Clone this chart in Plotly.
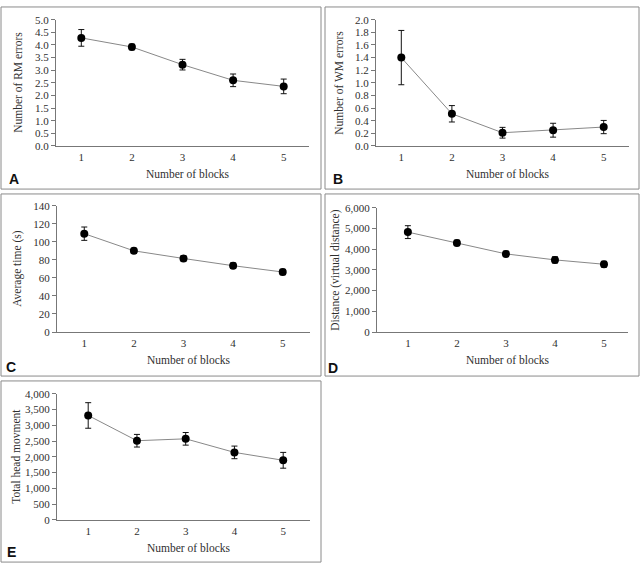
import plotly.graph_objects as go

W, H = 641, 571

blocks = [1, 2, 3, 4, 5]

rm_errors = [4.28, 3.92, 3.22, 2.60, 2.36]
rm_errors_se = [0.33, 0.11, 0.21, 0.25, 0.29]

wm_errors = [1.40, 0.51, 0.21, 0.25, 0.30]
wm_errors_se = [0.43, 0.13, 0.085, 0.11, 0.105]

avg_time = [109.0, 90.0, 81.5, 73.5, 66.5]
avg_time_se = [7.4, 2.8, 2.8, 3.0, 3.0]

distance = [4820, 4300, 3770, 3480, 3270]
distance_se = [310, 130, 130, 150, 140]

head_move = [3310, 2510, 2570, 2140, 1890]
head_move_se = [405, 200, 200, 200, 250]

panel_letters = ["A", "B", "C", "D", "E"]
y_titles = ["Number of RM errors", "Number of WM errors", "Average time (s)",
            "Distance (virtual distance)", "Total head movment"]
x_title = "Number of blocks"

series = [rm_errors, wm_errors, avg_time, distance, head_move]
errors = [rm_errors_se, wm_errors_se, avg_time_se, distance_se, head_move_se]

# layout (pixels)
panels = [
    dict(xd=(56, 309), xr=(0.5, 5.5), yd=(14, 143), yr=(0, 5), dt=0.5, fmt=".1f",
         box=(1, 1, 321, 187), letter=(7, 177), ytx=18),
    dict(xd=(376, 629), xr=(0.5, 5.5), yd=(14, 143), yr=(0, 2), dt=0.2, fmt=".1f",
         box=(325, 1, 639, 187), letter=(331, 177), ytx=339),
    dict(xd=(57, 310), xr=(0.45, 5.55), yd=(204, 333), yr=(0, 140), dt=20, fmt="d",
         box=(1, 192, 321, 378), letter=(4, 369), ytx=18),
    dict(xd=(377, 628), xr=(0.37, 5.49), yd=(206, 333), yr=(0, 6000), dt=1000, fmt=",",
         box=(325, 192, 639, 378), letter=(326, 370), ytx=336),
    dict(xd=(57, 310), xr=(0.36, 5.55), yd=(396, 525), yr=(0, 4000), dt=500, fmt=",",
         box=(1, 383, 321, 568), letter=(5, 558), ytx=16),
]

def px(x):
    return x / W

def py(y):
    return 1 - y / H

FONT = "Liberation Serif"
AXC = "#777777"
TXC = "#2f2f2f"

fig = go.Figure()
layout = dict(width=W, height=H, margin=dict(l=0, r=0, t=0, b=0),
              paper_bgcolor="white", plot_bgcolor="white", showlegend=False,
              font=dict(family=FONT, size=10, color=TXC))
shapes = []
annotations = []

for i, p in enumerate(panels):
    n = "" if i == 0 else str(i + 1)
    xa, ya = "x" + n, "y" + n
    fig.add_trace(go.Scatter(
        x=blocks, y=series[i], xaxis=xa, yaxis=ya, mode="lines+markers",
        line=dict(color="#888888", width=1),
        marker=dict(color="black", size=8),
        error_y=dict(type="data", array=errors[i], color="#111111", thickness=1, width=3),
        cliponaxis=False,
    ))
    layout["xaxis" + n] = dict(
        domain=[px(p["xd"][0]), px(p["xd"][1])], range=list(p["xr"]), anchor=ya,
        tickvals=blocks, showline=True, linecolor=AXC, linewidth=1,
        ticks="outside", ticklen=1, tickcolor="rgba(0,0,0,0)",
        showgrid=False, zeroline=False, fixedrange=True,
        tickfont=dict(family=FONT, size=11, color=TXC),
    )
    layout["yaxis" + n] = dict(
        domain=[py(p["yd"][1]), py(p["yd"][0])], range=list(p["yr"]), anchor=xa,
        dtick=p["dt"], tick0=0, tickformat=p["fmt"], showline=True, linecolor=AXC,
        linewidth=1, ticks="outside", ticklen=4, tickcolor=AXC,
        showgrid=False, zeroline=False, fixedrange=True,
        tickfont=dict(family=FONT, size=11, color=TXC),
    )
    x0, y0, x1, y1 = p["box"]
    shapes.append(dict(type="rect", xref="paper", yref="paper",
                       x0=px(x0), x1=px(x1), y0=py(y1), y1=py(y0),
                       line=dict(color="#8a8a8a", width=1)))
    lx, ly = p["letter"]
    annotations.append(dict(text="<b>%s</b>" % panel_letters[i], xref="paper", yref="paper",
                            x=px(lx), y=py(ly), xanchor="left", yanchor="middle",
                            showarrow=False,
                            font=dict(family="Liberation Sans", size=14, color="#111111")))
    axis_bottom = p["yd"][1]
    annotations.append(dict(text=x_title, xref="paper", yref="paper",
                            x=px((p["xd"][0] + p["xd"][1]) / 2 + 5), y=py(axis_bottom + 29),
                            xanchor="center", yanchor="middle", showarrow=False,
                            font=dict(family=FONT, size=11.5, color=TXC)))
    annotations.append(dict(text=y_titles[i], xref="paper", yref="paper",
                            x=px(p["ytx"]), y=py((p["yd"][0] + p["yd"][1]) / 2),
                            xanchor="center", yanchor="middle", textangle=-90,
                            showarrow=False,
                            font=dict(family=FONT, size=11.5, color=TXC)))

layout["shapes"] = shapes
layout["annotations"] = annotations
fig.update_layout(**layout)
fig.write_html("out.html", config={"displayModeBar": False},
               post_script="document.body.style.margin='0';document.body.style.overflow='hidden';")
